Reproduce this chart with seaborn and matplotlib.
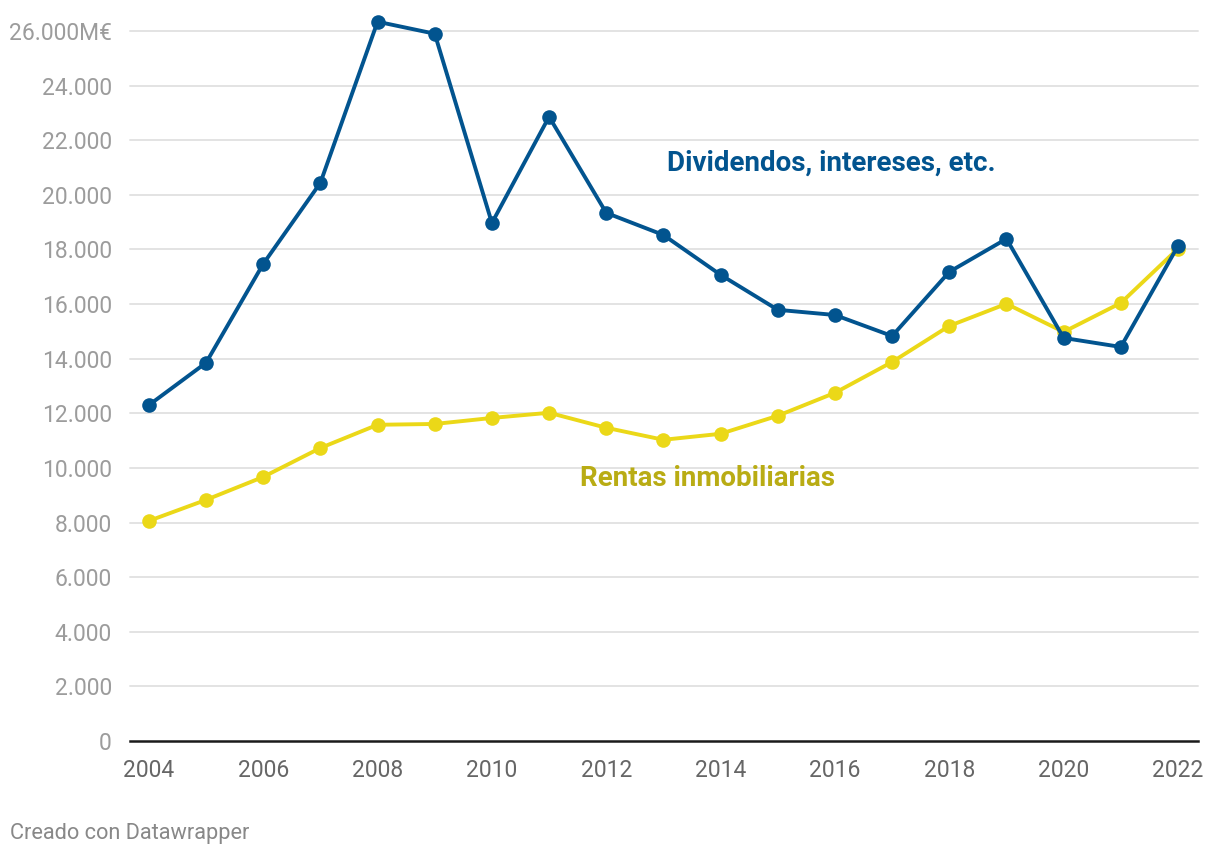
import matplotlib
matplotlib.use("Agg")
import matplotlib.pyplot as plt
import seaborn as sns
import pandas as pd

years = list(range(2004, 2023))
dividendos = [12300, 13850, 17470, 20440, 26340, 25900, 18970, 22860, 19340, 18530,
              17070, 15790, 15600, 14830, 17180, 18390, 14760, 14430, 18130]
rentas = [8060, 8830, 9670, 10730, 11580, 11610, 11830, 12020, 11470, 11030,
          11250, 11910, 12750, 13880, 15200, 16010, 14980, 16040, 18030]
series_names = ["Dividendos, intereses, etc.", "Rentas inmobiliarias"]
yticks = list(range(0, 26001, 2000))
xticks = list(range(2004, 2023, 2))

blue = "#02548f"
yellow = "#ebd818"
yellow_text = "#b9ac14"

df = pd.DataFrame({
    "year": years * 2,
    "value": dividendos + rentas,
    "serie": [series_names[0]] * len(years) + [series_names[1]] * len(years),
})

sns.set_theme(style="white")
plt.rcParams["font.family"] = ["Roboto", "DejaVu Sans"]

fig = plt.figure(figsize=(12.2, 8.58), dpi=100)
ax = fig.add_axes([130 / 1220, 1 - 741 / 858, (1198 - 130) / 1220, (741 - 31) / 858])

for y in yticks[1:]:
    ax.axhline(y, color="#e3e3e3", lw=1.4, zorder=0)

# draw yellow first so blue sits on top where they cross
sns.lineplot(data=df, x="year", y="value", hue="serie",
             hue_order=[series_names[1], series_names[0]],
             palette={series_names[0]: blue, series_names[1]: yellow},
             marker="o", markersize=10.5, markeredgewidth=0, linewidth=2.8,
             legend=False, ax=ax, clip_on=False)
for line in ax.get_lines():
    line.set_clip_on(False)

ax.set_xlim(2003.67, 2022.35)
ax.set_ylim(0, 26000)
ax.set_xlabel("")
ax.set_ylabel("")
for s in ["top", "right", "left"]:
    ax.spines[s].set_visible(False)
ax.spines["bottom"].set_color("#1a1a1a")
ax.spines["bottom"].set_linewidth(1.8)
ax.spines["bottom"].set_zorder(5)

ax.set_yticks(yticks)
ylabels = [f"{v:,}".replace(",", ".") for v in yticks]
ylabels[-1] = ylabels[-1] + "M€"
ax.set_yticklabels(ylabels)
ax.set_xticks(xticks)
ax.set_xticklabels([str(x) for x in xticks])
ax.tick_params(axis="y", length=0, pad=13, labelsize=16.5, labelcolor="#9c9c9c")
ax.tick_params(axis="x", length=0, pad=13, labelsize=16.5, labelcolor="#666666")

ax.text(2013.06, 21150, series_names[0], color=blue, fontsize=20,
        fontweight="bold", ha="left", va="center")
ax.text(2011.54, 9600, series_names[1], color=yellow_text, fontsize=20,
        fontweight="bold", ha="left", va="center")

fig.text(10 / 1220, 1 - 833 / 858, "Creado con Datawrapper", color="#888888",
         fontsize=15.7, ha="left", va="center")

fig.savefig("out.png", dpi=100, facecolor="white")
